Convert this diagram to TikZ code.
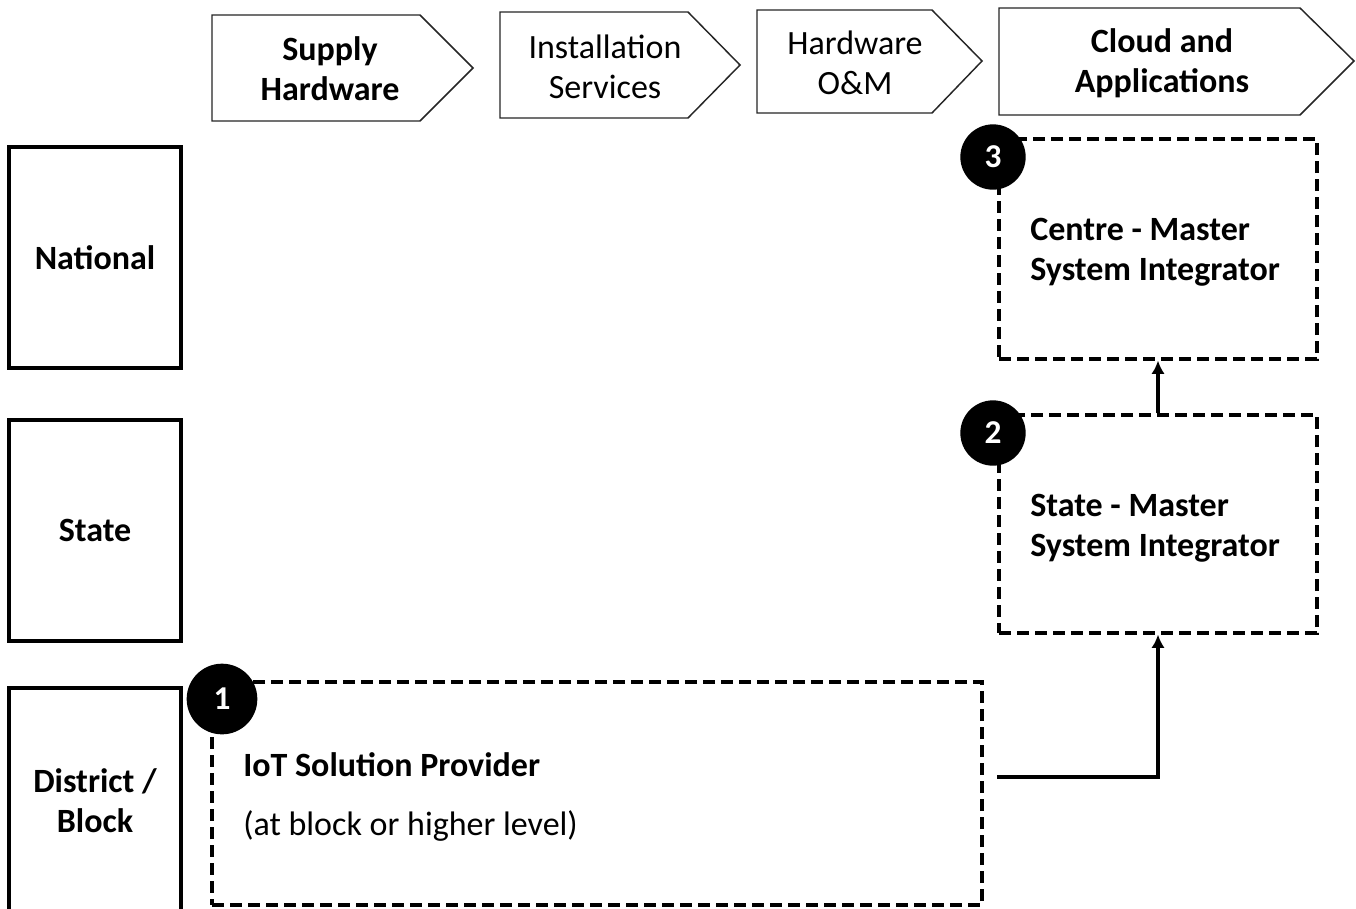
\documentclass[tikz,border=0pt]{standalone}
\usepackage{fontspec}
\setmainfont{Carlito}
\usetikzlibrary{fit,arrows.meta}
\begin{document}
\begin{tikzpicture}[x=0.75pt,y=-0.75pt,
  chev/.style={draw=black!85, line width=1.1pt, line join=miter, fill=white},
  lvl/.style={draw=black, line width=2.3pt, inner sep=0pt},
  dbox/.style={draw=black, line width=2.3pt, dash pattern=on 9pt off 4.5pt, inner sep=0pt},
  badge/.style={circle, fill=black, inner sep=0pt, minimum size=49pt, text=white, font=\fontsize{25}{25}\selectfont\bfseries},
  txt/.style={font=\fontsize{25.5}{30}\selectfont, align=center, inner sep=0pt},
  btxt/.style={txt, font=\fontsize{25.5}{30}\selectfont\bfseries},
  conn/.style={draw=black, line width=2.6pt, -{Latex[length=10pt,width=10pt]}},
]
\useasboundingbox (0,0) rectangle (1356,908);
\fill[white] (0,0) rectangle (1356,908);

% value-chain chevrons
\draw[chev] (212,15) -- (420,15) -- (473,68) -- (420,121) -- (212,121) -- cycle;
\node[btxt] (c1) at (330,69) {Supply\\Hardware};
\draw[chev] (500,12) -- (688,12) -- (740,65) -- (688,118) -- (500,118) -- cycle;
\node[txt] (c2) at (605,67) {Installation\\Services};
\draw[chev] (757,10) -- (932,10) -- (982,61) -- (932,113) -- (757,113) -- cycle;
\node[txt] (c3) at (855,63) {Hardware\\O\&M};
\draw[chev] (999,8) -- (1300,8) -- (1354,61) -- (1300,115) -- (999,115) -- cycle;
\node[btxt] (c4) at (1162,63) {Cloud and\\Applications};

% governance levels
\node[lvl, fit={(9,147)(181,368)}] (nat) {};
\node[btxt] at (nat.center) (natl) {National};
\node[lvl, fit={(9,420)(181,641)}] (sta) {};
\node[btxt] at (sta.center) (stal) {State};
\node[lvl, fit={(9,688)(181,918)}] (dis) {};
\node[btxt] at (95,801) (disl) {District /\\Block};

% actors
\node[dbox, fit={(999,139)(1317,359)}] (b3) {};
\node[btxt, anchor=west, align=left] (b3l) at (1030,252) {Centre - Master\\System Integrator};
\node[badge] (n3) at (993,157) {3};

\node[dbox, fit={(999,415)(1317,633)}] (b2) {};
\node[btxt, anchor=west, align=left] (b2l) at (1030,528) {State - Master\\System Integrator};
\node[badge] (n2) at (993,433) {2};

\node[dbox, fit={(212,682)(982,905)}] (b1) {};
\node[btxt, anchor=west] (b1a) at (243,765) {IoT Solution Provider};
\node[txt, anchor=west] (b1b) at (243,826) {(at block or higher level)};
\node[badge, minimum size=53pt] (n1) at (222,699) {1};

% flows between actors
\coordinate (s1) at (997,777);
\draw[conn] (s1) -| (b2.south);
\draw[conn] (b2.north) -- (b3.south);
\end{tikzpicture}
\end{document}
